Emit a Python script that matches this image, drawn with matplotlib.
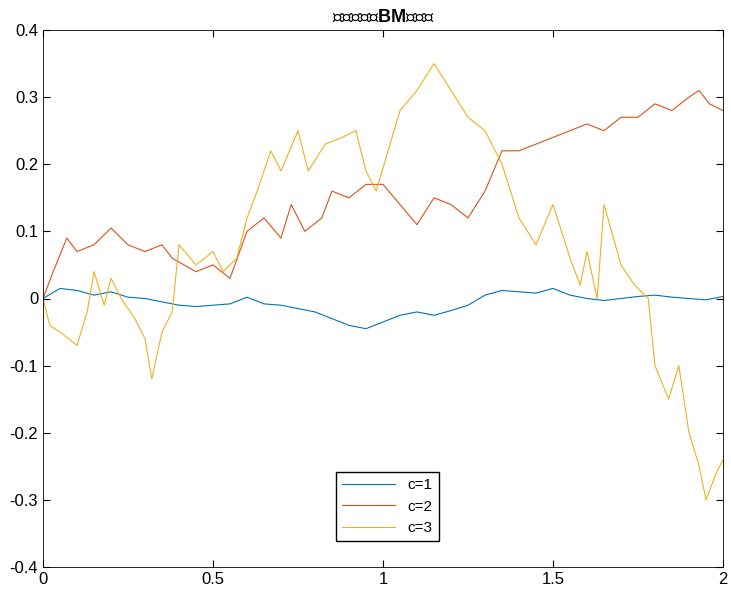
import matplotlib
matplotlib.use("Agg")
import matplotlib.pyplot as plt

plt.rcParams['font.family'] = ['Liberation Sans', 'Noto Sans CJK SC', 'DejaVu Sans']
plt.rcParams['mathtext.fontset'] = 'custom'
plt.rcParams['mathtext.bf'] = 'Liberation Sans:bold'

t1 = [0,0.05,0.1,0.15,0.2,0.25,0.3,0.35,0.4,0.45,0.5,0.55,0.6,0.65,0.7,0.75,0.8,0.85,0.9,0.95,1.0,1.05,1.1,1.15,1.2,1.25,1.3,1.35,1.4,1.45,1.5,1.55,1.6,1.65,1.7,1.75,1.8,1.85,1.9,1.95,2.0]
c1 = [0,0.015,0.012,0.005,0.01,0.002,0,-0.005,-0.01,-0.012,-0.01,-0.008,0.002,-0.008,-0.01,-0.015,-0.02,-0.03,-0.04,-0.045,-0.035,-0.025,-0.02,-0.025,-0.018,-0.01,0.005,0.012,0.01,0.008,0.015,0.005,0,-0.003,0,0.003,0.005,0.002,0,-0.002,0.003]

t2 = [0,0.03,0.07,0.1,0.15,0.2,0.25,0.3,0.35,0.38,0.45,0.5,0.55,0.6,0.65,0.7,0.73,0.77,0.82,0.85,0.9,0.95,1.0,1.05,1.1,1.15,1.2,1.25,1.3,1.35,1.4,1.45,1.5,1.55,1.6,1.65,1.7,1.75,1.8,1.85,1.9,1.93,1.96,2.0]
c2 = [0,0.04,0.09,0.07,0.08,0.105,0.08,0.07,0.08,0.06,0.04,0.05,0.03,0.1,0.12,0.09,0.14,0.1,0.12,0.16,0.15,0.17,0.17,0.14,0.11,0.15,0.14,0.12,0.16,0.22,0.22,0.23,0.24,0.25,0.26,0.25,0.27,0.27,0.29,0.28,0.3,0.31,0.29,0.28]

t3 = [0,0.02,0.05,0.1,0.13,0.15,0.18,0.2,0.23,0.27,0.3,0.32,0.35,0.38,0.4,0.45,0.5,0.53,0.57,0.6,0.63,0.67,0.7,0.75,0.78,0.83,0.88,0.92,0.95,0.98,1.05,1.1,1.15,1.2,1.25,1.3,1.35,1.4,1.45,1.5,1.55,1.58,1.6,1.63,1.65,1.7,1.74,1.78,1.8,1.84,1.87,1.9,1.93,1.95,1.98,2.0]
c3 = [0,-0.04,-0.05,-0.07,-0.02,0.04,-0.01,0.03,0,-0.03,-0.06,-0.12,-0.05,-0.02,0.08,0.05,0.07,0.04,0.06,0.12,0.16,0.22,0.19,0.25,0.19,0.23,0.24,0.25,0.19,0.16,0.28,0.31,0.35,0.31,0.27,0.25,0.2,0.12,0.08,0.14,0.06,0.02,0.07,0.0,0.14,0.05,0.02,0.0,-0.1,-0.15,-0.1,-0.2,-0.25,-0.3,-0.26,-0.24]

fig = plt.figure(figsize=(7.31, 5.97), dpi=100)
ax = fig.add_axes([43/731, 30/597, 680/731, 537/597])
ax.plot(t1, c1, color='#0072BD', lw=0.8, label='c=1')
ax.plot(t2, c2, color='#D95319', lw=0.8, label='c=2')
ax.plot(t3, c3, color='#EDB120', lw=0.8, label='c=3')
ax.set_xlim(0, 2)
ax.set_ylim(-0.4, 0.4)
ax.set_xticks([0, 0.5, 1, 1.5, 2])
ax.set_xticklabels(['0', '0.5', '1', '1.5', '2'])
ax.set_yticks([-0.4,-0.3,-0.2,-0.1,0,0.1,0.2,0.3,0.4])
ax.set_yticklabels(['-0.4','-0.3','-0.2','-0.1','0','0.1','0.2','0.3','0.4'])
ax.tick_params(direction='in', top=True, right=True, labelsize=12, length=5)
for s in ax.spines.values():
    s.set_linewidth(0.6)
ax.set_title('布朗运动（$\\mathbf{BM}$）轨道', fontsize=13)
ax.legend(loc='lower left', bbox_to_anchor=(285/680, 18/537), fontsize=11,
          fancybox=False, edgecolor='black', framealpha=1, handlelength=3.5)
fig.savefig('out.png', dpi=100)
